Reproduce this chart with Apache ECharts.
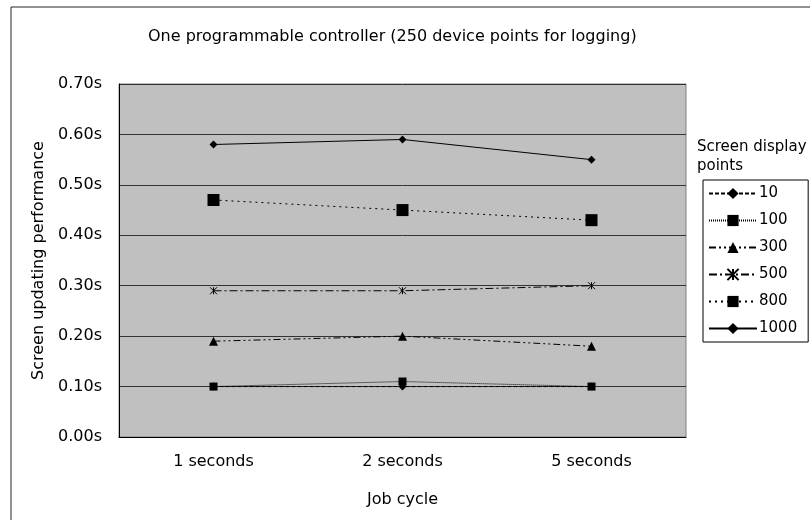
<!DOCTYPE html>
<html>
<head>
<meta charset="utf-8">
<script src="https://cdn.jsdelivr.net/npm/echarts@6/dist/echarts.min.js"></script>
<style>
  html, body { margin: 0; padding: 0; background: #fff; }
  #chart { width: 810px; height: 520px; }
</style>
</head>
<body>
<div id="chart"></div>
<script>
// Job cycles on the x axis
const jobCycles = ['1 seconds', '2 seconds', '5 seconds'];

// Screen updating time (seconds) per number of screen display points
const pts10 = [0.10, 0.10, 0.10];
const pts100 = [0.10, 0.11, 0.10];
const pts300 = [0.19, 0.20, 0.18];
const pts500 = [0.29, 0.29, 0.30];
const pts800 = [0.47, 0.45, 0.43];
const pts1000 = [0.58, 0.59, 0.55];

const seriesNames = ['10', '100', '300', '500', '800', '1000'];

const FONT = '"DejaVu Sans", sans-serif';
const asterisk = 'path://M0,0L10,10M10,0L0,10M5,0L5,10';

const chart = echarts.init(document.getElementById('chart'), null, { renderer: 'canvas' });

function lineSeries(name, data, dash, symbol, size) {
  return {
    name: name,
    type: 'line',
    data: data,
    symbol: symbol,
    symbolSize: size,
    showSymbol: true,
    animation: false,
    lineStyle: { color: '#000', width: 1, type: dash },
    itemStyle: { color: '#000', borderColor: '#000', borderWidth: symbol === asterisk ? 1 : 0 },
    emphasis: { disabled: true }
  };
}

chart.setOption({
  animation: false,
  backgroundColor: '#fff',
  title: {
    text: 'One programmable controller (250 device points for logging)',
    left: 148,
    top: 29,
    padding: 0,
    textStyle: { fontFamily: FONT, fontSize: 16, fontWeight: 'normal', color: '#000' }
  },
  graphic: [
    {
      type: 'rect',
      shape: { x: 11, y: 7, width: 830, height: 540 },
      style: { fill: 'none', stroke: '#222', lineWidth: 1 },
      silent: true
    },
    {
      type: 'text',
      left: 697,
      top: 138,
      style: {
        text: 'Screen display\npoints',
        fontFamily: FONT,
        fontSize: 15,
        lineHeight: 19,
        fill: '#000'
      },
      silent: true
    }
  ],
  legend: {
    data: seriesNames,
    orient: 'vertical',
    left: 703,
    top: 180,
    padding: [6, 11, 6, 5],
    itemWidth: 48,
    itemHeight: 14,
    itemGap: 12,
    borderColor: '#000',
    borderWidth: 1,
    backgroundColor: '#fff',
    selectedMode: false,
    textStyle: { fontFamily: FONT, fontSize: 15, color: '#000', padding: [0, 0, 0, -3] }
  },
  grid: {
    left: 119,
    top: 84,
    right: 124,
    bottom: 83,
    show: true,
    backgroundColor: '#c0c0c0',
    borderColor: '#808080',
    borderWidth: 1,
    containLabel: false
  },
  xAxis: {
    type: 'category',
    data: jobCycles,
    boundaryGap: true,
    name: 'Job cycle',
    nameLocation: 'middle',
    nameGap: 55,
    nameTextStyle: { fontFamily: FONT, fontSize: 16, color: '#000' },
    axisLine: { show: true, lineStyle: { color: '#000', width: 1 } },
    axisTick: { show: false },
    axisLabel: { fontFamily: FONT, fontSize: 16, color: '#000', margin: 17 },
    splitLine: { show: false }
  },
  yAxis: {
    type: 'value',
    min: 0,
    max: 0.7,
    interval: 0.1,
    name: 'Screen updating performance',
    nameLocation: 'middle',
    nameGap: 72,
    nameTextStyle: { fontFamily: FONT, fontSize: 16, color: '#000' },
    axisLine: { show: true, lineStyle: { color: '#000', width: 1 } },
    axisTick: { show: false },
    axisLabel: {
      fontFamily: FONT,
      fontSize: 16,
      color: '#000',
      margin: 17,
      formatter: function (v) { return v.toFixed(2) + 's'; }
    },
    splitLine: { show: true, lineStyle: { color: '#333', width: 1 } }
  },
  series: [
    lineSeries('10', pts10, [4, 2], 'diamond', 8),
    lineSeries('100', pts100, [1, 1], 'rect', 8),
    lineSeries('300', pts300, [7, 3, 2, 3, 2, 3], 'triangle', 9),
    lineSeries('500', pts500, [8, 3, 2, 3], asterisk, 7),
    lineSeries('800', pts800, [2, 4], 'rect', 12),
    lineSeries('1000', pts1000, 'solid', 'diamond', 8)
  ]
});
</script>
</body>
</html>
